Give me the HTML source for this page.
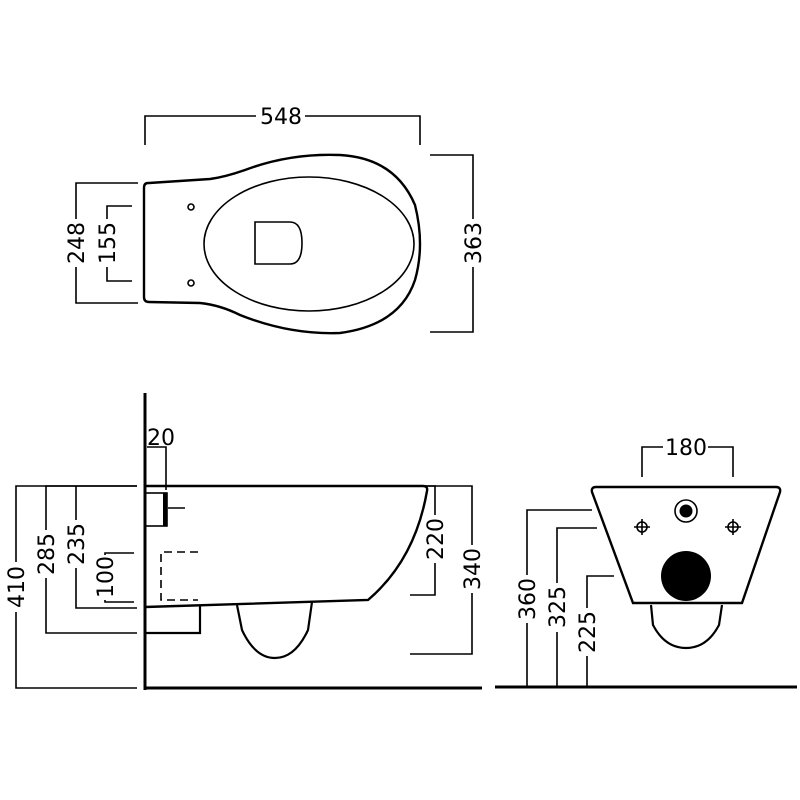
<!DOCTYPE html><html><head><style>body{margin:0;background:#fff}svg{display:block}text{font-family:"DejaVu Sans","Liberation Sans",sans-serif;font-size:22px;fill:#000}</style></head><body>
<svg width="800" height="800" viewBox="0 0 800 800" xmlns="http://www.w3.org/2000/svg">
<rect width="800" height="800" fill="#fff"/>
<g fill="none" stroke="#000" stroke-width="1.6">
<!-- top view -->
<path d="M145 145V116H256M305 116H420V145"/>
<path d="M138 183H76V219M76 267V303H138"/>
<path d="M132 206H107V219M107 267V281H132"/>
<path d="M430 155H473V219M473 267V332H430"/>
<path stroke-width="2.4" d="M148 183Q144 183 144 188V297Q144 302 149 302L200 303Q220 305 240 315Q290 335 340 333Q400 325 415 280Q425 245 415 205Q395 158 340 155Q290 153 245 170Q225 177 210 179L149 183Z"/>
<ellipse cx="309" cy="244" rx="105" ry="67"/>
<path d="M255 222H290Q302 222 302 243Q302 264 290 264H255Z"/>
<circle cx="191" cy="207" r="3"/><circle cx="191" cy="283" r="3"/>
<!-- side view -->
<path stroke-width="3" d="M145 393V690M145 688H482"/>
<path stroke-width="2.4" d="M145 486H423Q428 486 427 491Q415 560 368 600L145 607"/>
<path stroke-width="2.2" d="M145 633H200V605M237 605L242 630Q255 658 275 658Q295 658 308 630L312 602"/>
<rect x="145" y="493" width="22" height="33"/>
<path stroke-width="4" d="M165 493V526"/>
<path d="M168 508H185"/>
<path stroke-dasharray="8,5" d="M198 552H161V600H198"/>
<path d="M147 447H166V490"/>
<path d="M137 486H16V562M16 612V688H137"/>
<path d="M137 633H46V578M46 530V486H137"/>
<path d="M137 608H76V568M76 520V486"/>
<path d="M134 553H105V555M105 600V602H134"/>
<path d="M410 486H435V515M435 563V595H410"/>
<path d="M410 486H472V545M472 593V654H410"/>
<!-- front view -->
<path stroke-width="3" d="M495 687H797"/>
<path stroke-width="2.4" d="M596 487H776Q781 487 780 492L742 603H633L592 492Q591 487 596 487Z"/>
<path stroke-width="2.2" d="M651 605L653 625Q665 648 686 648Q707 648 719 625L722 605"/>
<circle cx="686" cy="511" r="11"/>
<circle cx="642" cy="527" r="5"/><path d="M634 527H650M642 519V535"/>
<circle cx="733" cy="527" r="5"/><path d="M725 527H741M733 519V535"/>
<path d="M642 477V447H663M708 447H733V477"/>
<path d="M592 510H527V575M527 623V687"/>
<path d="M597 528H557V583M557 632V687"/>
<path d="M614 576H587V608M587 656V687"/>
</g>
<circle cx="686" cy="511" r="6.5"/>
<circle cx="686" cy="576" r="25"/>
<text x="281" y="124" text-anchor="middle">548</text>
<text transform="translate(84,243) rotate(-90)" text-anchor="middle">248</text>
<text transform="translate(115,243) rotate(-90)" text-anchor="middle">155</text>
<text transform="translate(481,243) rotate(-90)" text-anchor="middle">363</text>
<text x="161" y="445" text-anchor="middle">20</text>
<text transform="translate(24,587) rotate(-90)" text-anchor="middle">410</text>
<text transform="translate(54,554) rotate(-90)" text-anchor="middle">285</text>
<text transform="translate(84,544) rotate(-90)" text-anchor="middle">235</text>
<text transform="translate(113,577) rotate(-90)" text-anchor="middle">100</text>
<text transform="translate(443,539) rotate(-90)" text-anchor="middle">220</text>
<text transform="translate(480,569) rotate(-90)" text-anchor="middle">340</text>
<text x="686" y="455" text-anchor="middle">180</text>
<text transform="translate(535,599) rotate(-90)" text-anchor="middle">360</text>
<text transform="translate(565,607) rotate(-90)" text-anchor="middle">325</text>
<text transform="translate(595,632) rotate(-90)" text-anchor="middle">225</text>
</svg></body></html>
